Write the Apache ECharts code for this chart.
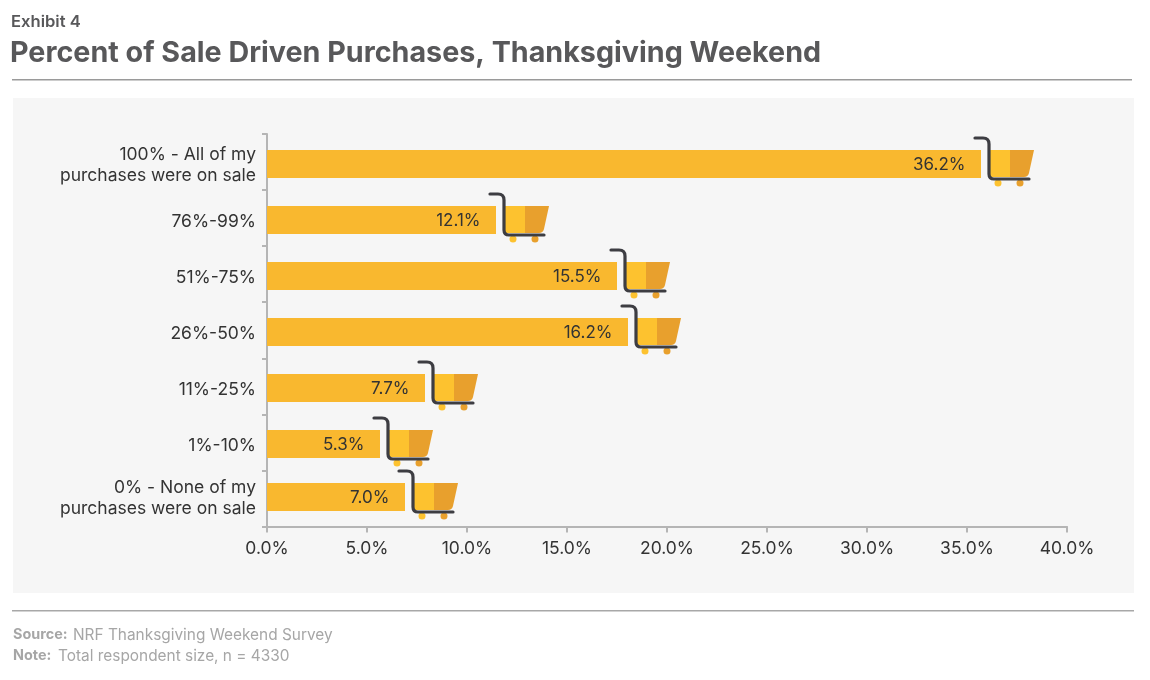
<!DOCTYPE html>
<html>
<head>
<meta charset="utf-8">
<script src="https://cdn.jsdelivr.net/npm/echarts@6/dist/echarts.min.js"></script>
<style>
html, body {margin: 0; padding: 0; background: #fff;}
#main {width: 1150px; height: 680px;}
</style>
</head>
<body>
<div id="main"></div>
<script>
let categories = ['100% - All of my\npurchases were on sale', '76%-99%', '51%-75%', '26%-50%', '11%-25%', '1%-10%', '0% - None of my\npurchases were on sale'];
// bar lengths as drawn in the picture, they do not follow the printed labels
let barLengths = [35.7, 11.45, 17.5, 18.05, 7.9, 5.65, 6.9];
let printedValues = ['36.2%', '12.1%', '15.5%', '16.2%', '7.7%', '5.3%', '7.0%'];
let tickLabels = ['0.0%', '5.0%', '10.0%', '15.0%', '20.0%', '25.0%', '30.0%', '35.0%', '40.0%'];

let font = 'Inter, "Open Sans", sans-serif';
let barColor = '#f9b82f';
let lastRow = categories.length - 1;
let catText = {fontFamily: font, fontSize: 17.5, color: '#333', lineHeight: 21, align: 'right'};

// rows sit a little below the band centre, the last one closer to the row above
function rowNudge(i) {
    return i === lastRow ? -1.5 : 2;
}

// the top padding pushes each line of the label down with its bar
function catLabel(value, index) {
    let tag = index === lastRow ? 'plain' : 'pushed';
    return value.split('\n').map(line => '{' + tag + '|' + line + '}').join('\n');
}

function drawRow(params, api) {
    let i = api.value(2);
    let end = api.coord([api.value(0), api.value(1)]);
    let start = api.coord([0, api.value(1)]);
    let x = end[0];
    let y = Math.round(end[1] + rowNudge(i));
    let barH = 28;
    return {
        type: 'group',
        children: [
            {type: 'rect', shape: {x: start[0], y: y - barH / 2, width: x - start[0], height: barH}, style: {fill: barColor}},
            {type: 'rect', shape: {x: x + 9, y: y - 14, width: 21, height: 27}, style: {fill: '#fdc22f'}},
            {
                type: 'path',
                shape: {pathData: 'M0 0 L24 0 L19 23 Q18 27 14 27 L0 27 Z', x: x + 29, y: y - 14, width: 24, height: 27},
                style: {fill: '#e8a02d'}
            },
            {type: 'circle', shape: {cx: x + 17, cy: y + 19, r: 3.5}, style: {fill: '#fdc22f'}},
            {type: 'circle', shape: {cx: x + 39, cy: y + 19, r: 3.5}, style: {fill: '#e8a02d'}},
            {
                type: 'path',
                shape: {pathData: 'M0 0 L8 0 Q14 0 14 6 L14 36 Q14 41 19 41 L54 41', x: x - 6, y: y - 26, width: 54, height: 41},
                style: {stroke: '#3d3d42', lineWidth: 3.2, fill: null, lineCap: 'round'}
            },
            {
                type: 'text',
                style: {text: printedValues[i], x: x - 15.5, y: y + 1, align: 'right', verticalAlign: 'middle', font: '17px ' + font, fill: '#333'}
            }
        ]
    };
}

let rows = barLengths.map((v, i) => [v, categories[i], i]);

echarts.init(document.getElementById('main')).setOption({
    animation: false,
    backgroundColor: '#fff',
    grid: {left: 267, top: 134, width: 800, height: 392.5, containLabel: false},
    xAxis: {
        type: 'value',
        min: 0,
        max: 40,
        interval: 5,
        splitLine: {show: false},
        axisLine: {show: true, lineStyle: {color: '#b5b5b5', width: 2}},
        axisTick: {show: true, length: 6, lineStyle: {color: '#b5b5b5', width: 2}},
        axisLabel: {
            margin: 13,
            fontFamily: font,
            fontSize: 17.5,
            color: '#333',
            formatter: (v) => tickLabels[v / 5]
        }
    },
    yAxis: {
        type: 'category',
        inverse: true,
        data: categories,
        axisLine: {show: true, lineStyle: {color: '#b5b5b5', width: 2}},
        axisTick: {show: true, length: 5, lineStyle: {color: '#b5b5b5', width: 2}},
        axisLabel: {
            margin: 11,
            align: 'right',
            formatter: catLabel,
            rich: {
                plain: catText,
                pushed: Object.assign({}, catText, {padding: [7, 0, 0, 0]})
            }
        }
    },
    series: [{
        type: 'custom',
        coordinateSystem: 'cartesian2d',
        renderItem: drawRow,
        encode: {x: 0, y: 1},
        data: rows,
        z: 5
    }],
    graphic: [
        {type: 'rect', z: -10, shape: {x: 13, y: 98, width: 1121, height: 495}, style: {fill: '#f6f6f6'}},
        {type: 'rect', shape: {x: 12, y: 79, width: 1120, height: 1.5}, style: {fill: '#9a9a9a'}},
        {type: 'rect', shape: {x: 12, y: 610, width: 1122, height: 1.5}, style: {fill: '#a8a8a8'}},
        {type: 'text', style: {text: 'Exhibit 4', x: 11, y: 13, font: '600 16.6px ' + font, fill: '#58585a'}},
        {type: 'text', style: {text: 'Percent of Sale Driven Purchases, Thanksgiving Weekend', x: 10, y: 39, font: '700 28.7px ' + font, fill: '#58585a'}},
        {type: 'text', style: {text: 'Source:', x: 13, y: 628, font: '700 14.4px ' + font, fill: '#a6a6a6'}},
        {type: 'text', style: {text: 'NRF Thanksgiving Weekend Survey', x: 73, y: 628, font: '15.4px ' + font, fill: '#a6a6a6'}},
        {type: 'text', style: {text: 'Note:', x: 13, y: 649, font: '700 14.4px ' + font, fill: '#a6a6a6'}},
        {type: 'text', style: {text: 'Total respondent size, n = 4330', x: 58, y: 649, font: '15.4px ' + font, fill: '#a6a6a6'}}
    ]
});
</script>
</body>
</html>
